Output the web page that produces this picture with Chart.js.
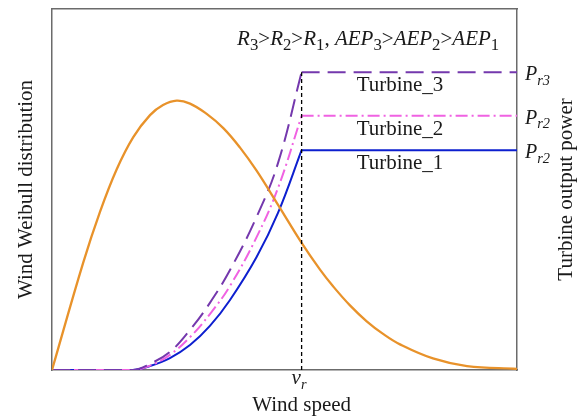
<!DOCTYPE html>
<html>
<head>
<meta charset="utf-8">
<script src="https://cdn.jsdelivr.net/npm/chart.js@4.4.1/dist/chart.umd.min.js"></script>
<style>
  html, body { margin: 0; padding: 0; background: #fff; }
  #wrap { width: 584px; height: 420px; }
</style>
</head>
<body>
<div id="wrap"><canvas id="weibullChart"></canvas></div>
<script>
// Weibull distribution of wind speed
var weibullSpeed = [0, 1.67, 2.58, 3.48, 4.37, 5.27, 5.97, 6.70, 7.42, 8.30, 9.21, 10.11, 11.0, 12.17, 13.42, 14.41, 15.11, 16.02, 16.92, 17.80, 18.71, 20.48, 22.31, 25];
var weibullValue = [0, 0.296, 0.438, 0.556, 0.645, 0.706, 0.734, 0.746, 0.738, 0.710, 0.670, 0.616, 0.552, 0.456, 0.352, 0.278, 0.232, 0.179, 0.135, 0.100, 0.071, 0.032, 0.011, 0.003];

// Power curves below rated speed
var ratedSpeed = 13.42;
var maxSpeed = 25;
var riseSpeed = [0, 4.35, 5.27, 6.34, 7.42, 8.49, 9.57, 11.0, 12.15, 13.42];
var turbine1Power = [0, 0, 0.011, 0.033, 0.069, 0.122, 0.194, 0.313, 0.435, 0.609];
var turbine2Power = [0, 0, 0.012, 0.042, 0.091, 0.155, 0.233, 0.368, 0.504, 0.704];
var turbine3Power = [0, 0, 0.017, 0.050, 0.111, 0.186, 0.277, 0.424, 0.573, 0.825];
var ratedPower = [0.609, 0.704, 0.825];

var turbineNames = ["Turbine_1", "Turbine_2", "Turbine_3"];
var ratedLabels = [["P", "r2"], ["P", "r2"], ["P", "r3"]];
var turbineColors = ["#0d1fcf", "#f062e2", "#7438ad"];
var turbineDash = [[], [12, 4, 2, 4], [18, 8]];

var SERIF = "'Liberation Serif', 'Times New Roman', serif";

function pts(xs, ys) {
  return xs.map(function (x, i) { return { x: x, y: ys[i] }; });
}

var powers = [turbine1Power, turbine2Power, turbine3Power];
var datasets = [];

// rated speed marker
datasets.push({
  label: "v_r",
  data: [{ x: ratedSpeed, y: 0 }, { x: ratedSpeed, y: ratedPower[2] }],
  borderColor: "#000",
  borderWidth: 1.3,
  borderDash: [4, 3],
  pointRadius: 0,
  tension: 0,
});

datasets.push({
  label: "Weibull",
  data: pts(weibullSpeed, weibullValue),
  borderColor: "#e8922a",
  borderWidth: 2.3,
  pointRadius: 0,
  tension: 0.4,
});

for (var i = 2; i >= 0; i--) {
  datasets.push({
    label: turbineNames[i],
    data: pts(riseSpeed, powers[i]),
    borderColor: turbineColors[i],
    borderWidth: 2,
    borderDash: turbineDash[i],
    pointRadius: 0,
    tension: 0.4,
  });
  datasets.push({
    label: turbineNames[i] + " rated",
    data: [{ x: ratedSpeed, y: ratedPower[i] }, { x: maxSpeed, y: ratedPower[i] }],
    borderColor: turbineColors[i],
    borderWidth: 2,
    borderDash: turbineDash[i],
    pointRadius: 0,
    tension: 0,
  });
}

// text with italic parts and subscripts
function drawRich(ctx, parts, x, y, size, subScale) {
  var cx = x;
  subScale = subScale || 0.68;
  parts.forEach(function (p) {
    var s = p.sub ? size * subScale : size;
    ctx.font = (p.it ? "italic " : "") + s + "px " + SERIF;
    ctx.fillText(p.t, cx, y + (p.sub ? size * 0.22 : 0));
    cx += ctx.measureText(p.t).width;
  });
}

var textPlugin = {
  id: "texts",
  afterDraw: function (chart) {
    var ctx = chart.ctx;
    var xs = chart.scales.x, ys = chart.scales.y, area = chart.chartArea;
    ctx.save();
    ctx.fillStyle = "#1a1a1a";
    ctx.textBaseline = "alphabetic";
    ctx.textAlign = "left";

    // relation between radius and AEP
    drawRich(ctx, [
      { t: "R", it: true }, { t: "3", sub: true }, { t: ">" },
      { t: "R", it: true }, { t: "2", sub: true }, { t: ">" },
      { t: "R", it: true }, { t: "1", sub: true }, { t: ", " },
      { t: "AEP", it: true }, { t: "3", sub: true }, { t: ">" },
      { t: "AEP", it: true }, { t: "2", sub: true }, { t: ">" },
      { t: "AEP", it: true }, { t: "1", sub: true }
    ], xs.getPixelForValue(9.95), ys.getPixelForValue(0.900), 21, 0.8);

    // turbine names and rated power labels
    for (var i = 0; i < 3; i++) {
      var py = ys.getPixelForValue(ratedPower[i]);
      ctx.textAlign = "center";
      ctx.font = "21px " + SERIF;
      ctx.fillText(turbineNames[i], xs.getPixelForValue(18.71), py + 19);
      ctx.textAlign = "left";
      drawRich(ctx, [{ t: ratedLabels[i][0], it: true }, { t: ratedLabels[i][1], it: true, sub: true }],
        area.right + 8, py + 8, 20, 0.72);
    }

    // v_r under the axis
    ctx.textAlign = "left";
    drawRich(ctx, [{ t: "v", it: true }, { t: "r", it: true, sub: true }],
      xs.getPixelForValue(ratedSpeed) - 10, area.bottom + 14, 21);

    // axis titles
    ctx.font = "21px " + SERIF;
    ctx.textAlign = "center";
    ctx.fillText("Wind speed", xs.getPixelForValue(ratedSpeed), area.bottom + 41);

    var midY = (area.top + area.bottom) / 2;
    ctx.save();
    ctx.translate(32, midY);
    ctx.rotate(-Math.PI / 2);
    ctx.fillText("Wind Weibull distribution", 0, 0);
    ctx.restore();

    ctx.save();
    ctx.translate(572, midY);
    ctx.rotate(-Math.PI / 2);
    ctx.fillText("Turbine output power", 0, 0);
    ctx.restore();

    ctx.restore();
  },
};

var frame = { display: true, color: "#6b6b6b", width: 1.5 };
function axis(pos, size, isX) {
  return {
    type: "linear",
    position: pos,
    min: 0,
    max: isX ? maxSpeed : 1,
    grid: { display: false },
    ticks: { display: false },
    border: frame,
    afterFit: function (s) {
      if (isX) s.height = size; else s.width = size;
    },
  };
}

new Chart(document.getElementById("weibullChart"), {
  type: "line",
  data: { datasets: datasets },
  options: {
    responsive: true,
    maintainAspectRatio: false,
    animation: false,
    layout: { padding: 0 },
    plugins: { legend: { display: false }, tooltip: { enabled: false } },
    scales: {
      x: axis("bottom", 50, true),
      xTop: axis("top", 9, true),
      y: axis("left", 52, false),
      yRight: axis("right", 67, false),
    },
  },
  plugins: [textPlugin],
});
</script>
</body>
</html>
